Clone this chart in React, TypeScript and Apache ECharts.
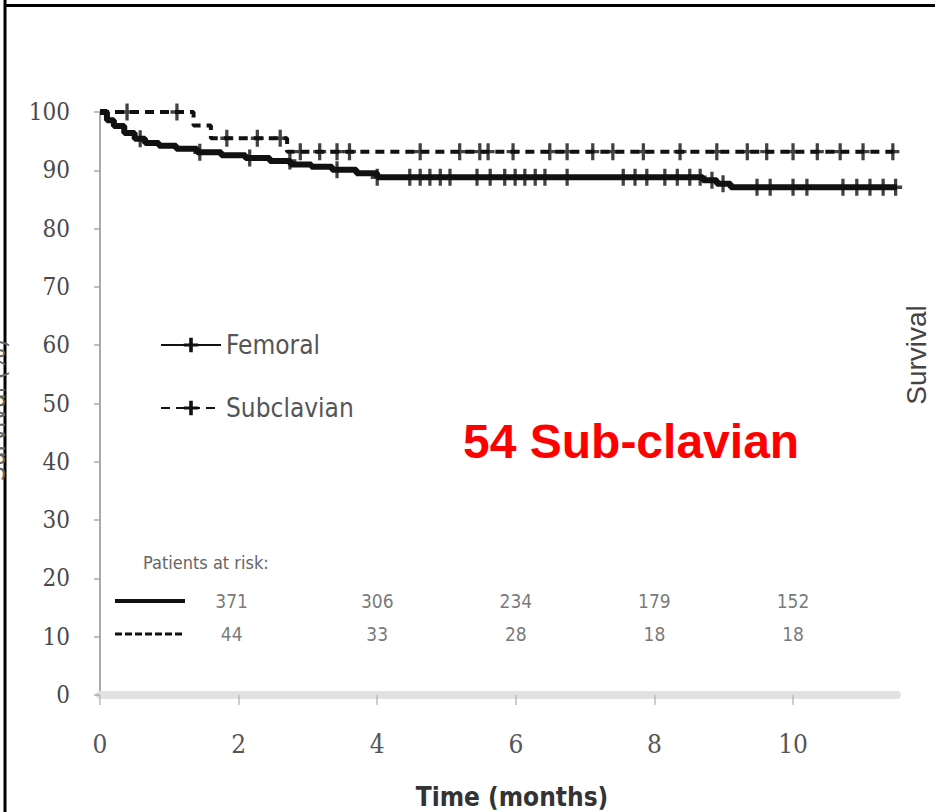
import React, { useEffect, useRef } from "react";
import * as echarts from "echarts";

// Kaplan–Meier steps (months, % survival); last point = end of follow-up
const femoralTimes = [0, 0.1, 0.2, 0.35, 0.5, 0.65, 0.85, 1.1, 1.4, 1.75, 2.1, 2.45, 2.75, 3.05, 3.35, 3.7, 4.0, 8.7, 8.9, 9.1, 11.5];
const femoralSurvival = [100, 98.6, 97.6, 96.4, 95.4, 94.7, 94.2, 93.7, 93.1, 92.6, 92.1, 91.6, 91.0, 90.6, 90.1, 89.5, 88.8, 88.3, 87.7, 87.1, 87.1];

const subclavianTimes = [0, 1.35, 1.6, 2.7, 11.5];
const subclavianSurvival = [100, 97.7, 95.5, 93.2, 93.2];

// censored observations (months)
const femoralCensored = [0.58, 1.44, 2.16, 2.74, 3.42, 4.0, 4.47, 4.62, 4.76, 4.91, 5.05, 5.44, 5.63, 5.84, 5.99, 6.13, 6.28, 6.42, 6.74, 7.55, 7.72, 7.89, 8.15, 8.33, 8.51, 8.66, 8.83, 8.99, 9.48, 9.67, 10.0, 10.2, 10.72, 10.92, 11.11, 11.3, 11.48];
const subclavianCensored = [0.39, 1.11, 1.83, 2.27, 2.6, 2.89, 3.17, 3.42, 3.6, 4.62, 5.19, 5.48, 5.6, 5.96, 6.49, 6.74, 7.11, 7.4, 7.84, 8.37, 8.9, 9.34, 9.62, 10.0, 10.35, 10.68, 11.01, 11.44];

// patients at risk table
const riskTimes = [1.9, 4, 6, 8, 10];
const femoralAtRisk = [371, 306, 234, 179, 152];
const subclavianAtRisk = [44, 33, 28, 18, 18];

const xTicks = [0, 2, 4, 6, 8, 10];

const PLUS = "path://M-1,-5H1V-1H4V1H1V5H-1V1H-4V-1H-1Z";

function survivalAt(times: number[], surv: number[], t: number) {
  let v = surv[0];
  for (let i = 0; i < times.length; i++) if (times[i] <= t) v = surv[i];
  return v;
}

export default function App() {
  const ref = useRef<HTMLDivElement>(null);
  useEffect(() => {
    if (!ref.current) return;
    const chart = echarts.init(ref.current, null, { renderer: "svg" });
    const labelFont = "'DejaVu Sans Condensed', 'DejaVu Sans', sans-serif";
    const rowFem = 16.1;
    const rowSub = 10.5;
    const riskLabel = {
      show: true,
      position: "inside",
      formatter: (p: any) => String(p.value[2]),
      fontSize: 19,
      color: "#555",
      fontFamily: labelFont,
    };
    chart.setOption({
      animation: false,
      backgroundColor: "#ffffff",
      grid: { left: 100, right: 43, top: 112, bottom: 117 },
      legend: {
        data: ["Femoral", "Subclavian"],
        orient: "vertical",
        left: 155,
        top: 327,
        itemWidth: 60,
        itemHeight: 18,
        itemGap: 37,
        textStyle: { fontSize: 26, color: "#555", fontFamily: labelFont },
      },
      xAxis: {
        type: "value",
        min: 0,
        max: 11.5,
        interval: 2,
        splitLine: { show: false },
        axisLine: { lineStyle: { color: "#e2e2e2", width: 8 } },
        axisTick: { show: true, length: 10, lineStyle: { color: "#bbb", width: 1.5 }, customValues: xTicks },
        axisLabel: {
          customValues: xTicks,
          fontSize: 26,
          color: "#555",
          margin: 36,
          fontFamily: "'DejaVu Serif Condensed', 'DejaVu Serif', serif",
        },
      },
      yAxis: {
        type: "value",
        min: 0,
        max: 100,
        interval: 10,
        splitLine: { show: false },
        axisLine: { show: true, lineStyle: { color: "#aaa", width: 2 } },
        axisTick: { show: true, length: 6, lineStyle: { color: "#aaa", width: 1.5 } },
        axisLabel: {
          fontSize: 24,
          color: "#4a4a4a",
          margin: 30,
          fontFamily: "'DejaVu Serif Condensed', 'DejaVu Serif', serif",
        },
      },
      series: [
        {
          name: "Femoral",
          type: "line",
          step: "end",
          data: femoralTimes.map((t, i) => [t, femoralSurvival[i]]),
          showSymbol: false,
          symbol: PLUS,
          symbolSize: [13, 17],
          itemStyle: { color: "#111" },
          lineStyle: { color: "#111", width: 6 },
          z: 3,
        },
        {
          name: "Subclavian",
          type: "line",
          step: "end",
          data: subclavianTimes.map((t, i) => [t, subclavianSurvival[i]]),
          showSymbol: false,
          symbol: PLUS,
          symbolSize: [13, 17],
          itemStyle: { color: "#111" },
          lineStyle: { color: "#111", width: 4, type: [9, 6] },
          z: 3,
        },
        {
          name: "Femoral censored",
          type: "scatter",
          symbol: PLUS,
          symbolSize: [13, 17],
          itemStyle: { color: "#111" },
          data: femoralCensored.map((t) => [t, survivalAt(femoralTimes, femoralSurvival, t)]),
          z: 4,
        },
        {
          name: "Subclavian censored",
          type: "scatter",
          symbol: PLUS,
          symbolSize: [13, 17],
          itemStyle: { color: "#111" },
          data: subclavianCensored.map((t) => [t, survivalAt(subclavianTimes, subclavianSurvival, t)]),
          z: 4,
        },
        {
          name: "At risk femoral",
          type: "scatter",
          symbolSize: 0,
          silent: true,
          data: riskTimes.map((t, i) => [t, rowFem, femoralAtRisk[i]]),
          label: riskLabel,
        },
        {
          name: "At risk subclavian",
          type: "scatter",
          symbolSize: 0,
          silent: true,
          data: riskTimes.map((t, i) => [t, rowSub, subclavianAtRisk[i]]),
          label: riskLabel,
        },
      ],
      graphic: [
        { type: "line", shape: { x1: 5, y1: 0, x2: 5, y2: 812 }, style: { stroke: "#000", lineWidth: 3 } },
        { type: "line", shape: { x1: 4, y1: 5.5, x2: 935, y2: 5.5 }, style: { stroke: "#000", lineWidth: 3 } },
        {
          type: "text",
          x: -4,
          y: 410,
          rotation: Math.PI / 2,
          style: { text: "Survival (%)", fill: "#666", align: "center", verticalAlign: "middle", font: "26px 'DejaVu Sans Condensed', sans-serif" },
        },
        {
          type: "text",
          x: 916,
          y: 355,
          rotation: Math.PI / 2,
          style: { text: "Survival", fill: "#444", align: "center", verticalAlign: "middle", font: "28px 'Liberation Sans', Arial, sans-serif" },
        },
        {
          type: "text",
          x: 463,
          y: 441,
          style: { text: "54 Sub-clavian", fill: "#ff0000", align: "left", verticalAlign: "middle", font: "bold 48px 'Liberation Sans', Arial, sans-serif" },
          z: 10,
        },
        {
          type: "text",
          x: 512,
          y: 797,
          style: { text: "Time (months)", fill: "#333", align: "center", verticalAlign: "middle", font: "bold 26px 'DejaVu Sans Condensed', sans-serif" },
        },
        {
          type: "text",
          x: 143,
          y: 562,
          style: { text: "Patients at risk:", fill: "#666", align: "left", verticalAlign: "middle", font: "18px 'DejaVu Sans Condensed', sans-serif" },
        },
        { type: "line", shape: { x1: 115, y1: 601, x2: 185, y2: 601 }, style: { stroke: "#111", lineWidth: 4 } },
        { type: "line", shape: { x1: 115, y1: 634, x2: 185, y2: 634 }, style: { stroke: "#111", lineWidth: 3, lineDash: [7, 3] } },
      ],
    });
    return () => chart.dispose();
  }, []);
  return <div ref={ref} style={{ position: "absolute", left: 0, top: 0, width: 940, height: 812 }} />;
}
